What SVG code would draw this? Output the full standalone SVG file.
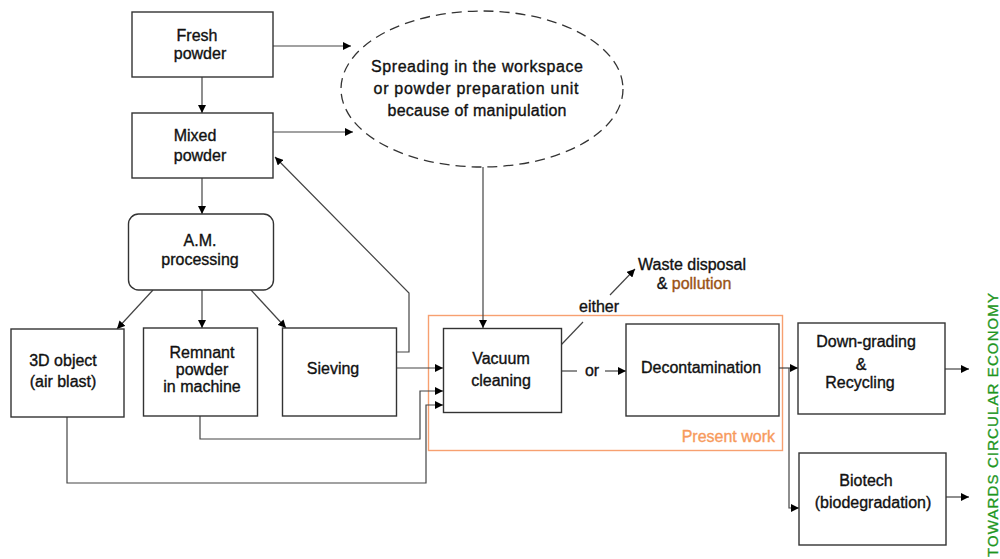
<svg xmlns="http://www.w3.org/2000/svg" width="1000" height="559" viewBox="0 0 1000 559">
<defs>
<marker id="ah" viewBox="0 0 10 10" refX="10" refY="5" markerWidth="8" markerHeight="8" markerUnits="userSpaceOnUse" orient="auto">
<path d="M0,0 L10,5 L0,10 z" fill="#000"/>
</marker>
</defs>
<style>
.box{fill:#fff;stroke:#333;stroke-width:1.4}
.t{font-family:"Liberation Sans",Arial,sans-serif;font-size:16px;fill:#111;stroke:#111;stroke-width:0.35;text-anchor:middle}
.c{fill:none;stroke:#444;stroke-width:1.2}
.a{fill:none;stroke:#444;stroke-width:1.2;marker-end:url(#ah)}
</style>
<rect width="1000" height="559" fill="#fff"/>

<g id="present-work">
<rect x="428.5" y="315.5" width="354" height="135" fill="none" stroke="#f7a070" stroke-width="1.4"/>
<text class="t" x="775" y="442" style="text-anchor:end;fill:#f79a5c;stroke:#f79a5c">Present work</text>
</g>

<g id="connectors">
<line class="a" x1="273" y1="46" x2="351" y2="46"/>
<line class="a" x1="273" y1="132" x2="353" y2="132"/>
<line class="a" x1="202" y1="77" x2="202" y2="113"/>
<line class="a" x1="202" y1="178" x2="202" y2="214"/>
<line class="a" x1="483" y1="167" x2="483" y2="328"/>
<line class="a" x1="153" y1="290" x2="117" y2="329"/>
<line class="a" x1="202" y1="290" x2="202" y2="328"/>
<line class="a" x1="251" y1="290" x2="286" y2="328"/>
<polyline class="a" points="396,352 409,352 409,293 275,157"/>
<line class="a" x1="396" y1="368" x2="443" y2="368"/>
<polyline class="a" points="200,416 200,439 420,439 420,391 443,391"/>
<polyline class="a" points="67,417 67,483 426,483 426,405 443,405"/>
<line class="c" x1="561" y1="371" x2="577" y2="371"/>
<line class="a" x1="605" y1="371" x2="626" y2="371"/>
<line class="c" x1="561" y1="345" x2="583" y2="322"/>
<line class="a" x1="610" y1="295" x2="635" y2="269"/>
<line class="a" x1="779" y1="368" x2="798" y2="368"/>
<polyline class="a" points="789,368 789,508 799,508"/>
<line class="a" x1="945" y1="369" x2="969" y2="369"/>
<line class="a" x1="946" y1="497" x2="969" y2="497"/>
</g>

<g id="fresh-powder">
<rect class="box" x="132" y="12" width="141" height="65"/>
<text class="t" x="197" y="41">Fresh</text>
<text class="t" x="200" y="59">powder</text>
</g>
<g id="mixed-powder">
<rect class="box" x="132" y="113" width="141" height="65"/>
<text class="t" x="195" y="141">Mixed</text>
<text class="t" x="200" y="161">powder</text>
</g>
<g id="spreading">
<ellipse cx="482" cy="89" rx="141" ry="78" fill="#fff" stroke="#333" stroke-width="1.3" stroke-dasharray="10,6"/>
<text class="t" x="477" y="72" textLength="212">Spreading in the workspace</text>
<text class="t" x="476" y="94" textLength="205">or powder preparation unit</text>
<text class="t" x="477" y="116" textLength="179">because of manipulation</text>
</g>
<g id="am-processing">
<rect class="box" x="128.5" y="214" width="145" height="76" rx="10"/>
<text class="t" x="200" y="246">A.M.</text>
<text class="t" x="200" y="265">processing</text>
</g>
<g id="object-3d">
<rect class="box" x="11" y="329" width="113" height="88"/>
<text class="t" x="63" y="366">3D object</text>
<text class="t" x="63" y="387">(air blast)</text>
</g>
<g id="remnant">
<rect class="box" x="143.5" y="328" width="114" height="88"/>
<text class="t" x="202" y="358">Remnant</text>
<text class="t" x="202" y="375">powder</text>
<text class="t" x="202" y="392">in machine</text>
</g>
<g id="sieving">
<rect class="box" x="282.5" y="328" width="114" height="88"/>
<text class="t" x="333" y="374">Sieving</text>
</g>
<g id="vacuum">
<rect class="box" x="443.5" y="328.5" width="118" height="84"/>
<text class="t" x="501" y="364">Vacuum</text>
<text class="t" x="501" y="386">cleaning</text>
</g>
<text class="t" x="592" y="376">or</text>
<text class="t" x="599" y="312">either</text>
<g id="waste">
<text class="t" x="692" y="270">Waste disposal</text>
<text class="t" x="694" y="289">&amp; <tspan fill="#9a5316" stroke="#9a5316">pollution</tspan></text>
</g>
<g id="decontamination">
<rect class="box" x="626" y="324" width="153" height="92"/>
<text class="t" x="701" y="373">Decontamination</text>
</g>
<g id="downgrading">
<rect class="box" x="798" y="323" width="147" height="91"/>
<text class="t" x="866" y="347">Down-grading</text>
<text class="t" x="861" y="370">&amp;</text>
<text class="t" x="860" y="388">Recycling</text>
</g>
<g id="biotech">
<rect class="box" x="799" y="453" width="147" height="92"/>
<text class="t" x="866" y="486">Biotech</text>
<text class="t" x="873" y="508">(biodegradation)</text>
</g>
<text x="998" y="425" transform="rotate(-90 998 425)" style="font-family:'Liberation Sans',Arial,sans-serif;font-size:15px;fill:#1e961e;stroke:#1e961e;stroke-width:0.3;text-anchor:middle" textLength="264">TOWARDS CIRCULAR ECONOMY</text>
</svg>
